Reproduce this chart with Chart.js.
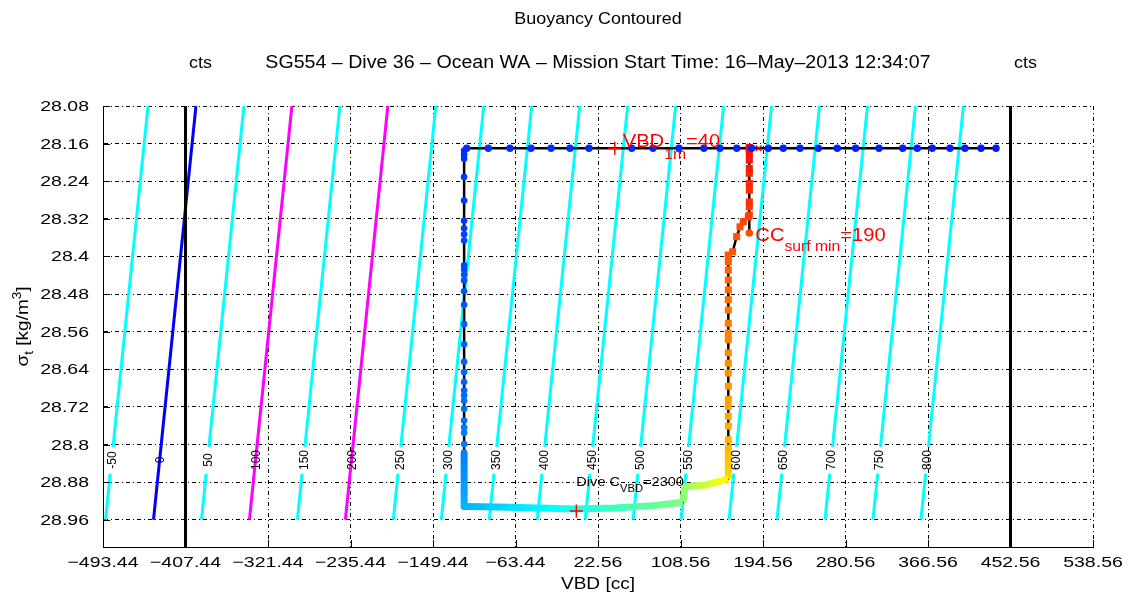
<!DOCTYPE html>
<html>
<head>
<meta charset="utf-8">
<title>Buoyancy Contoured</title>
<script src="https://cdn.jsdelivr.net/npm/chart.js@4.4.0/dist/chart.umd.min.js"></script>
<style>
  html, body { margin: 0; padding: 0; background: #fff; }
  #plot { display: block; }
</style>
</head>
<body>
<canvas id="plot" width="1135" height="598"></canvas>
<script>
// axis limits and ticks
const vbdMin = -493.44, vbdMax = 538.56;
const sigmaMin = 28.08, sigmaMax = 29.018;
const vbdTicks = [-493.44, -407.44, -321.44, -235.44, -149.44, -63.44, 22.56, 108.56, 194.56, 280.56, 366.56, 452.56, 538.56];
const sigmaTicks = [28.08, 28.16, 28.24, 28.32, 28.4, 28.48, 28.56, 28.64, 28.72, 28.8, 28.88, 28.96];

// VBD travel limits (black verticals)
const vbdLimits = [-407.44, 452.56];

// buoyancy contours
const contourLevels = [-50, 0, 50, 100, 150, 200, 250, 300, 350, 400, 450, 500, 550, 600, 650, 700, 750, 800];
const magentaLevels = [100, 200];
const neutralLevel = 0;
const contourSigmaTop = 28.08, contourSigmaBase = 28.96;
const contourVbdAtBase = -440.8;   // VBD of the neutral contour at the base density
const contourTilt = 50.3;          // cc per kg/m^3
const labelSigma = 28.833;
const labelGap = [28.805, 28.862];

// dive track, in time order
const surfSigma = 28.17;
const surfVbd = [437.5, 421.8, 405.1, 389.5, 371.0, 355.4, 340.2, 315.5, 291.2, 272.0, 252.2, 233.1, 215.7, 200.1,
  182.8, 167.2, 149.7, 133.0, 107.0, 79.9, 57.7, 13.2, -6.6, -26.4, -47.3, -69.2, -91.8, -114.3];
const descentVbd = -117;
const descentSigma = [28.175, 28.183, 28.192, 28.231, 28.281, 28.324, 28.340, 28.353, 28.366, 28.419, 28.428, 28.439,
  28.451, 28.474, 28.503, 28.544, 28.587, 28.624, 28.646, 28.667, 28.685, 28.696, 28.707, 28.724, 28.749, 28.764,
  28.775, 28.799, 28.817];
const descentBandSigma = [28.822, 28.932];
const bottomVbd = [-117, -80, -40, 0, 40, 80, 111.2];
const bottomSigma = [28.932, 28.933, 28.935, 28.937, 28.935, 28.930, 28.923];
const stepVbd = [111.2, 113, 135, 158.4];
const stepSigma = [28.923, 28.890, 28.886, 28.873];
const climbVbd = 158.4;
const climbBandSigma = [28.873, 28.80];
const climbSigma = [28.79, 28.761, 28.74, 28.719, 28.704, 28.676, 28.648, 28.627, 28.605, 28.577, 28.563, 28.542,
  28.514, 28.492, 28.471, 28.45, 28.429, 28.411, 28.397];
const bendVbd = [162.9, 167.1, 170.6, 174.0, 179.3];
const bendSigma = [28.390, 28.358, 28.337, 28.326, 28.316];
const ascentVbd = 180.3;
const ascentSigma = [28.312, 28.294, 28.284, 28.259, 28.245, 28.223, 28.213, 28.195, 28.181, 28.172, 28.168];
const surfMinSigma = 28.35;

// annotated values
const vbd1m = 40;
const ccSurfMin = 190;
const diveCvbd = 2300;
const diveMarkVbd = 0, diveMarkSigma = 28.9415, diveTextSigma = 28.88;

const FONT = '"Liberation Sans", Arial, Helvetica, sans-serif';
const STRETCH = 1.12;
const TICK_STRETCH = 1.3;

function jet(t) {
  const c = v => Math.round(Math.max(0, Math.min(1, v)) * 255);
  return 'rgb(' + c(1.5 - Math.abs(4 * t - 3)) + ',' + c(1.5 - Math.abs(4 * t - 2)) + ',' + c(1.5 - Math.abs(4 * t - 1)) + ')';
}
function ramp(n, t0, t1) {
  return Array.from({ length: n }, (_, i) => jet(n > 1 ? t0 + (t1 - t0) * i / (n - 1) : t0));
}
function pairs(xs, ys) { return xs.map((x, i) => ({ x: x, y: ys[i] })); }
function column(x, ys) { return ys.map(y => ({ x: x, y: y })); }
function contourVbd(level, sigma) { return level + contourVbdAtBase + contourTilt * (contourSigmaBase - sigma); }
function fmtVbd(v) { return (v < 0 ? '\u2212' : '') + Math.abs(v).toFixed(2); }
function fmtSigma(v) { return String(+v.toFixed(2)); }

// gradient along a band, from its first to its last vertex
function bandGradient(p0, p1, t0, t1) {
  return function (c) {
    const chart = c.chart;
    if (!chart.chartArea) return jet(t0);
    const sx = chart.scales.x, sy = chart.scales.y;
    const g = chart.ctx.createLinearGradient(sx.getPixelForValue(p0.x), sy.getPixelForValue(p0.y),
      sx.getPixelForValue(p1.x), sy.getPixelForValue(p1.y));
    for (let k = 0; k <= 10; k++) g.addColorStop(k / 10, jet(t0 + (t1 - t0) * k / 10));
    return g;
  };
}

const datasets = [];

// contour lines
contourLevels.forEach(level => {
  const color = level === neutralLevel ? '#0000ff' : (magentaLevels.includes(level) ? '#ff00ff' : '#00ffff');
  const broken = color === '#00ffff';
  const sigmas = broken
    ? [contourSigmaTop, labelGap[0], null, labelGap[1], contourSigmaBase]
    : [contourSigmaTop, contourSigmaBase];
  datasets.push({
    data: sigmas.map(s => s === null ? { x: null, y: null } : { x: contourVbd(level, s), y: s }),
    showLine: true, borderColor: color, borderWidth: 3, pointRadius: 0, spanGaps: false, order: 20
  });
});

// VBD limits
vbdLimits.forEach(v => {
  datasets.push({
    data: [{ x: v, y: sigmaMin }, { x: v, y: sigmaMax }],
    showLine: true, borderColor: '#000', borderWidth: 3, pointRadius: 0, order: 19
  });
});

// segments of the track
const segSurf = pairs(surfVbd, surfVbd.map(() => surfSigma));
const segDescent = column(descentVbd, descentSigma);
const segDescentBand = column(descentVbd, descentBandSigma);
const segBottom = pairs(bottomVbd, bottomSigma);
const segStep = pairs(stepVbd, stepSigma);
const segClimbBand = column(climbVbd, climbBandSigma);
const segClimb = column(climbVbd, climbSigma);
const segAscent = pairs(bendVbd, bendSigma).concat(column(ascentVbd, ascentSigma));

// black track line
datasets.push({
  data: [].concat(segSurf, segDescent, segDescentBand, segBottom, segStep, segClimbBand, segClimb, segAscent),
  showLine: true, borderColor: '#000', borderWidth: 2.5, pointRadius: 0, borderJoinStyle: 'round', order: 18
});
datasets.push({
  data: [{ x: ascentVbd, y: bendSigma[bendSigma.length - 1] }, { x: ascentVbd, y: surfMinSigma }],
  showLine: true, borderColor: '#000', borderWidth: 2.5, pointRadius: 0, order: 18
});

// dense parts of the track, drawn as colour bands
function band(seg, t0, t1, width) {
  datasets.push({
    data: seg, showLine: true, borderWidth: width, pointRadius: 0, borderJoinStyle: 'round',
    borderColor: bandGradient(seg[0], seg[seg.length - 1], t0, t1), order: 16
  });
}
band(segDescentBand, 0.25, 0.30, 7);
band(segBottom, 0.30, 0.50, 7);
band(segStep, 0.50, 0.64, 7);
band(segClimbBand, 0.66, 0.70, 7);

// sampled points
function dots(seg, t0, t1, style, radius) {
  datasets.push({
    data: seg, showLine: false, pointStyle: style, pointRadius: radius, pointBorderWidth: 0,
    pointBackgroundColor: ramp(seg.length, t0, t1), order: 15
  });
}
dots(segSurf, 0.15, 0.17, 'circle', 3.7);
dots(segDescent, 0.17, 0.25, 'circle', 3.3);
dots(segClimb, 0.70, 0.79, 'rect', 5);
dots(segAscent, 0.79, 0.87, 'rect', 5);
dots([{ x: ascentVbd, y: surfMinSigma }], 0.8, 0.8, 'circle', 3.8);

// marks
function mark(x, y, style, radius, width) {
  datasets.push({
    data: [{ x: x, y: y }], showLine: false, pointStyle: style, pointRadius: radius,
    pointBorderColor: '#ff0000', pointBorderWidth: width, pointBackgroundColor: 'transparent', order: 10
  });
}
mark(vbd1m, surfSigma, 'cross', 6.5, 1.5);
mark(ccSurfMin, surfSigma, 'crossRot', 4, 1.3);
mark(diveMarkVbd, diveMarkSigma, 'cross', 6.5, 1.5);

// text with sub/superscripts, slightly widened
function drawRich(ctx, parts, x, y, align, stretch) {
  const k = stretch || STRETCH;
  let total = 0;
  parts.forEach(p => {
    ctx.font = p.size + 'px ' + FONT;
    p.w = ctx.measureText(p.text).width * k;
    total += p.w;
  });
  let cx = align === 'center' ? x - total / 2 : (align === 'right' ? x - total : x);
  ctx.textAlign = 'left';
  ctx.textBaseline = 'alphabetic';
  parts.forEach(p => {
    ctx.font = p.size + 'px ' + FONT;
    ctx.save();
    ctx.translate(cx, y + (p.dy || 0));
    ctx.scale(k, 1);
    ctx.fillText(p.text, 0, 0);
    ctx.restore();
    cx += p.w;
  });
}

const decorations = {
  id: 'decorations',
  afterDatasetsDraw(chart) {
    const ctx = chart.ctx, sx = chart.scales.x, sy = chart.scales.y, area = chart.chartArea;
    ctx.save();
    // inward tick marks
    ctx.strokeStyle = '#000';
    ctx.lineWidth = 1;
    ctx.beginPath();
    sx.ticks.forEach((t, i) => {
      const px = Math.round(sx.getPixelForTick(i)) + 0.5;
      ctx.moveTo(px, area.bottom);
      ctx.lineTo(px, area.bottom - 7);
    });
    sy.ticks.forEach((t, i) => {
      const py = Math.round(sy.getPixelForTick(i)) + 0.5;
      ctx.moveTo(area.left, py);
      ctx.lineTo(area.left + 7, py);
    });
    ctx.stroke();

    // contour labels
    ctx.fillStyle = '#000';
    ctx.font = '12px ' + FONT;
    ctx.textAlign = 'center';
    ctx.textBaseline = 'middle';
    contourLevels.forEach(level => {
      const px = sx.getPixelForValue(contourVbd(level, labelSigma));
      const py = sy.getPixelForValue(labelSigma);
      ctx.save();
      ctx.translate(px + 1, py);
      ctx.rotate(-Math.PI / 2);
      ctx.fillText(String(level), 0, 0);
      ctx.restore();
    });

    // annotations
    ctx.fillStyle = '#ff0000';
    drawRich(ctx, [
      { text: 'VBD', size: 18 }, { text: '1m', size: 14, dy: 12 }, { text: '=' + vbd1m, size: 18 }
    ], sx.getPixelForValue(vbd1m) + 8, sy.getPixelForValue(surfSigma) - 1, 'left');
    drawRich(ctx, [
      { text: 'CC', size: 18 }, { text: 'surf min', size: 14, dy: 10 }, { text: '=' + ccSurfMin, size: 18 }
    ], sx.getPixelForValue(ascentVbd) + 6, sy.getPixelForValue(surfMinSigma) + 8, 'left');
    ctx.fillStyle = '#000';
    drawRich(ctx, [
      { text: 'Dive C', size: 13 }, { text: 'VBD', size: 10, dy: 6 }, { text: '=' + diveCvbd, size: 13 }
    ], sx.getPixelForValue(diveMarkVbd), sy.getPixelForValue(diveTextSigma) + 4, 'left');
    ctx.restore();
  },
  afterDraw(chart) {
    const ctx = chart.ctx, sx = chart.scales.x, sy = chart.scales.y, area = chart.chartArea;
    const mid = (area.left + area.right) / 2;
    ctx.save();
    ctx.fillStyle = '#000';

    // tick labels
    sx.ticks.forEach((t, i) => {
      drawRich(ctx, [{ text: fmtVbd(t.value), size: 15 }], sx.getPixelForTick(i), area.bottom + 20, 'center', TICK_STRETCH);
    });
    sy.ticks.forEach((t, i) => {
      drawRich(ctx, [{ text: fmtSigma(t.value), size: 15 }], area.left - 14, sy.getPixelForTick(i) + 5, 'right', TICK_STRETCH);
    });

    drawRich(ctx, [{ text: 'Buoyancy Contoured', size: 16 }], mid, 24, 'center');
    drawRich(ctx, [{ text: 'SG554 \u2013 Dive 36 \u2013 Ocean WA \u2013 Mission Start Time: 16\u2013May\u20132013 12:34:07', size: 17.5 }], mid, 68, 'center');
    vbdLimits.forEach(v => {
      drawRich(ctx, [{ text: 'cts', size: 16 }], sx.getPixelForValue(v) + 15, 68, 'center');
    });
    drawRich(ctx, [{ text: 'VBD [cc]', size: 17 }], mid, 589, 'center');
    ctx.save();
    ctx.translate(28, (area.top + area.bottom) / 2);
    ctx.rotate(-Math.PI / 2);
    drawRich(ctx, [
      { text: '\u03c3', size: 17 }, { text: 't', size: 12, dy: 5 }, { text: ' [kg/m', size: 17 },
      { text: '3', size: 12, dy: -7 }, { text: ']', size: 17 }
    ], 0, 0, 'center');
    ctx.restore();
    ctx.restore();
  }
};

new Chart(document.getElementById('plot'), {
  type: 'scatter',
  data: { datasets: datasets },
  options: {
    responsive: false,
    animation: false,
    devicePixelRatio: 1,
    layout: { padding: { top: 106, right: 42, left: 0, bottom: 0 } },
    plugins: { legend: { display: false }, tooltip: { enabled: false }, title: { display: false } },
    scales: {
      x: {
        type: 'linear', min: vbdMin, max: vbdMax,
        afterBuildTicks: s => { s.ticks = vbdTicks.map(v => ({ value: v, label: fmtVbd(v) })); },
        afterFit: s => { s.height = 51; },
        ticks: { display: false, autoSkip: false, maxRotation: 0 },
        grid: { color: '#000', lineWidth: 1, drawTicks: false },
        border: { display: true, color: '#000', width: 1, dash: [4, 3, 1, 3] }
      },
      y: {
        type: 'linear', reverse: true, min: sigmaMin, max: sigmaMax,
        afterBuildTicks: s => { s.ticks = sigmaTicks.map(v => ({ value: v, label: fmtSigma(v) })); },
        afterFit: s => { s.width = 103; },
        ticks: { display: false, autoSkip: false },
        grid: { color: '#000', lineWidth: 1, drawTicks: false },
        border: { display: true, color: '#000', width: 1, dash: [4, 3, 1, 3] }
      }
    }
  },
  plugins: [decorations]
});
</script>
</body>
</html>
